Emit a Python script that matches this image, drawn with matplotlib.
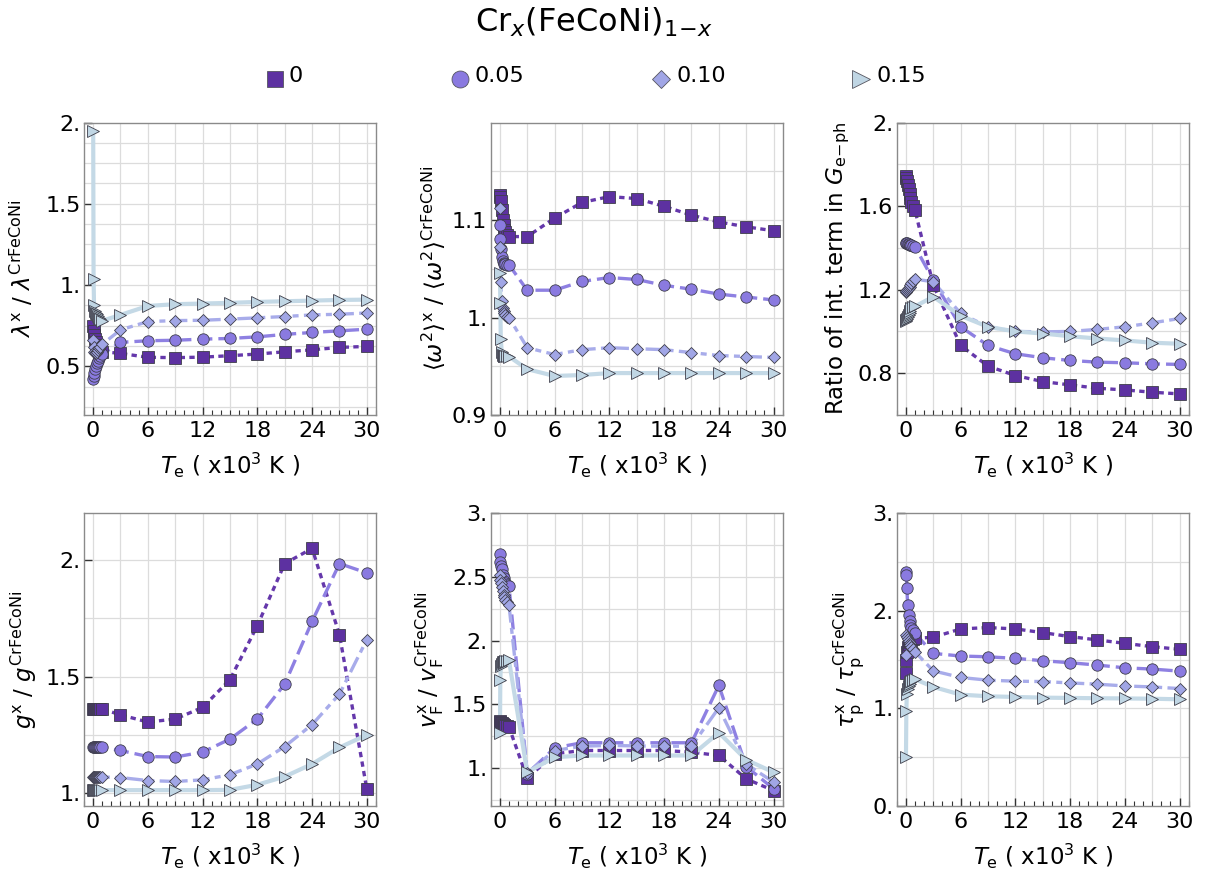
import matplotlib
matplotlib.use("Agg")
import matplotlib.pyplot as plt
from matplotlib.lines import Line2D
from matplotlib.ticker import FixedLocator, MultipleLocator

plt.rcParams['font.family'] = ['DejaVu Sans']
plt.rcParams['mathtext.fontset'] = 'dejavusans'

# ---------------------------------------------------------------- data
# electron temperature (x10^3 K)
T = [0.01, 0.05, 0.1, 0.2, 0.3, 0.4, 0.5, 0.6, 0.8, 1.0,
     3, 6, 9, 12, 15, 18, 21, 24, 27, 30]

compositions = ["0", "0.05", "0.10", "0.15"]

# lambda^x / lambda^CrFeCoNi
lam_00 = [0.75, 0.72, 0.69, 0.67, 0.65, 0.63, 0.62, 0.61, 0.60, 0.59,
          0.579, 0.555, 0.553, 0.556, 0.565, 0.575, 0.589, 0.601, 0.616, 0.622]
lam_05 = [0.42, 0.44, 0.46, 0.48, 0.50, 0.52, 0.535, 0.55, 0.565, 0.575,
          0.647, 0.657, 0.660, 0.667, 0.671, 0.681, 0.696, 0.708, 0.718, 0.728]
lam_10 = [0.66, 0.62, 0.59, 0.58, 0.58, 0.59, 0.60, 0.61, 0.62, 0.635,
          0.724, 0.775, 0.781, 0.783, 0.790, 0.798, 0.806, 0.816, 0.820, 0.828]
lam_15 = [1.95, 1.04, 0.88, 0.84, 0.83, 0.82, 0.81, 0.80, 0.79, 0.78,
          0.816, 0.871, 0.882, 0.886, 0.890, 0.896, 0.900, 0.904, 0.908, 0.910]

# <w^2>^x / <w^2>^CrFeCoNi
w2_00 = [1.126, 1.124, 1.120, 1.110, 1.100, 1.095, 1.090, 1.088, 1.085, 1.083,
         1.083, 1.102, 1.118, 1.124, 1.122, 1.114, 1.105, 1.098, 1.093, 1.089]
w2_05 = [1.095, 1.081, 1.070, 1.062, 1.058, 1.056, 1.055, 1.055, 1.054, 1.054,
         1.028, 1.028, 1.037, 1.041, 1.039, 1.033, 1.029, 1.024, 1.021, 1.018]
w2_10 = [1.112, 1.072, 1.036, 1.017, 1.010, 1.007, 1.005, 1.003, 1.001, 1.000,
         0.969, 0.962, 0.967, 0.969, 0.968, 0.967, 0.964, 0.961, 0.960, 0.959]
w2_15 = [1.046, 1.015, 0.978, 0.965, 0.962, 0.961, 0.961, 0.961, 0.961, 0.960,
         0.947, 0.940, 0.941, 0.943, 0.943, 0.943, 0.943, 0.943, 0.943, 0.943]

# ratio of the integral term in G_e-ph
rat_00 = [1.745, 1.735, 1.720, 1.700, 1.680, 1.660, 1.640, 1.620, 1.600, 1.580,
          1.222, 0.933, 0.834, 0.789, 0.760, 0.744, 0.728, 0.720, 0.709, 0.701]
rat_05 = [1.425, 1.424, 1.422, 1.420, 1.418, 1.416, 1.414, 1.412, 1.410, 1.405,
          1.246, 1.022, 0.933, 0.893, 0.874, 0.861, 0.853, 0.850, 0.845, 0.842]
rat_10 = [1.190, 1.195, 1.200, 1.205, 1.210, 1.215, 1.220, 1.230, 1.240, 1.250,
          1.238, 1.086, 1.022, 1.000, 0.998, 1.000, 1.010, 1.022, 1.041, 1.062]
rat_15 = [1.050, 1.055, 1.060, 1.070, 1.080, 1.090, 1.100, 1.110, 1.115, 1.120,
          1.166, 1.075, 1.022, 1.000, 0.990, 0.977, 0.966, 0.957, 0.946, 0.941]

# g^x / g^CrFeCoNi
g_00 = [1.360, 1.360, 1.360, 1.360, 1.360, 1.360, 1.360, 1.360, 1.360, 1.361,
        1.336, 1.305, 1.318, 1.368, 1.487, 1.719, 1.985, 2.050, 1.680, 1.017]
g_05 = [1.200, 1.200, 1.200, 1.199, 1.199, 1.198, 1.198, 1.197, 1.197, 1.196,
        1.183, 1.157, 1.155, 1.176, 1.232, 1.318, 1.468, 1.737, 1.985, 1.945]
g_10 = [1.071, 1.071, 1.071, 1.071, 1.070, 1.070, 1.070, 1.070, 1.069, 1.069,
        1.067, 1.054, 1.050, 1.057, 1.079, 1.125, 1.200, 1.294, 1.425, 1.659]
g_15 = [1.013, 1.013, 1.013, 1.013, 1.013, 1.013, 1.013, 1.013, 1.013, 1.013,
        1.013, 1.013, 1.013, 1.013, 1.014, 1.036, 1.071, 1.125, 1.196, 1.250]

# v_F^x / v_F^CrFeCoNi
vf_00 = [1.365, 1.360, 1.355, 1.350, 1.345, 1.340, 1.335, 1.330, 1.325, 1.320,
         0.918, 1.110, 1.136, 1.136, 1.136, 1.136, 1.123, 1.097, 0.913, 0.821]
vf_05 = [2.68, 2.62, 2.59, 2.56, 2.52, 2.49, 2.47, 2.45, 2.44, 2.43,
         0.953, 1.157, 1.197, 1.197, 1.197, 1.197, 1.197, 1.648, 1.010, 0.835]
vf_10 = [2.52, 2.48, 2.45, 2.42, 2.39, 2.36, 2.34, 2.32, 2.30, 2.28,
         0.960, 1.136, 1.170, 1.176, 1.172, 1.170, 1.170, 1.472, 1.030, 0.887]
vf_15 = [1.27, 1.69, 1.80, 1.82, 1.83, 1.83, 1.835, 1.84, 1.84, 1.845,
         0.965, 1.083, 1.097, 1.097, 1.097, 1.097, 1.097, 1.276, 1.063, 0.965]

# tau_p^x / tau_p^CrFeCoNi
tau_00 = [1.36, 1.50, 1.58, 1.63, 1.66, 1.68, 1.69, 1.70, 1.71, 1.72,
          1.730, 1.816, 1.830, 1.816, 1.778, 1.737, 1.703, 1.668, 1.634, 1.607]
tau_05 = [2.40, 2.37, 2.24, 2.06, 1.96, 1.90, 1.86, 1.83, 1.80, 1.77,
          1.565, 1.538, 1.530, 1.514, 1.490, 1.469, 1.445, 1.417, 1.404, 1.383]
tau_10 = [1.55, 1.75, 1.73, 1.71, 1.69, 1.67, 1.65, 1.63, 1.61, 1.58,
          1.386, 1.318, 1.290, 1.280, 1.276, 1.262, 1.249, 1.231, 1.221, 1.204]
tau_15 = [0.50, 0.97, 1.15, 1.20, 1.23, 1.25, 1.27, 1.28, 1.29, 1.30,
          1.221, 1.142, 1.125, 1.118, 1.111, 1.108, 1.105, 1.103, 1.100, 1.094]

x_ticks = [0, 6, 12, 18, 24, 30]
x_ticklabels = ["0", "6", "12", "18", "24", "30"]

panels = [
    dict(series=[lam_00, lam_05, lam_10, lam_15],
         ylabel=r"$\lambda^{\mathrm{x}}$ / $\lambda^{\mathrm{CrFeCoNi}}$",
         ylim=(0.2, 2.0), yticks=[0.5, 1.0, 1.5, 2.0],
         yticklabels=["0.5", "1.", "1.5", "2."], ygrid=0.125),
    dict(series=[w2_00, w2_05, w2_10, w2_15],
         ylabel=r"$\langle\omega^2\rangle^{\mathrm{x}}$ / $\langle\omega^2\rangle^{\mathrm{CrFeCoNi}}$",
         ylim=(0.9, 1.2), yticks=[0.9, 1.0, 1.1],
         yticklabels=["0.9", "1.", "1.1"], ygrid=0.05),
    dict(series=[rat_00, rat_05, rat_10, rat_15],
         ylabel=r"Ratio of int. term in $G_{\mathrm{e\!-\!ph}}$",
         ylim=(0.6, 2.0), yticks=[0.8, 1.2, 1.6, 2.0],
         yticklabels=["0.8", "1.2", "1.6", "2."], ygrid=0.2),
    dict(series=[g_00, g_05, g_10, g_15],
         ylabel=r"$g^{\mathrm{x}}$ / $g^{\mathrm{CrFeCoNi}}$",
         ylim=(0.945, 2.2), yticks=[1.0, 1.5, 2.0],
         yticklabels=["1.", "1.5", "2."], ygrid=0.25),
    dict(series=[vf_00, vf_05, vf_10, vf_15],
         ylabel=r"$v_{\mathrm{F}}^{\mathrm{x}}$ / $v_{\mathrm{F}}^{\mathrm{CrFeCoNi}}$",
         ylim=(0.7, 3.0), yticks=[1.0, 1.5, 2.0, 2.5, 3.0],
         yticklabels=["1.", "1.5", "2.", "2.5", "3."], ygrid=0.25),
    dict(series=[tau_00, tau_05, tau_10, tau_15],
         ylabel=r"$\tau_{\mathrm{p}}^{\mathrm{x}}$ / $\tau_{\mathrm{p}}^{\mathrm{CrFeCoNi}}$",
         ylim=(0.0, 3.0), yticks=[0.0, 1.0, 2.0, 3.0],
         yticklabels=["0.", "1.", "2.", "3."], ygrid=0.5),
]

# ---------------------------------------------------------------- styles
styles = [
    dict(marker="s", face="#5d31a1", line="#6538ab", ls=(0, (1.6, 1.3)), lw=2.4, ms=8.6),
    dict(marker="o", face="#8a7ae0", line="#8e80e2", ls=(0, (4.5, 1.8)), lw=2.4, ms=8.2),
    dict(marker="D", face="#a1a6e6", line="#a8acea", ls=(0, (5.0, 1.6, 1.8, 1.6)), lw=2.4, ms=6.2),
    dict(marker=">", face="#c0d6e4", line="#c4d9e6", ls="-", lw=3.0, ms=8.6),
]
edge_color = "#3e3e4a"

fig = plt.figure(figsize=(12.12, 8.77), dpi=100)

col_left = [0.0693, 0.4049, 0.7399]
row_bottom = [0.5268, 0.0810]
ax_w, ax_h = 0.2409, 0.3335
label_x = [-0.165, -0.150, -0.152, -0.155, -0.152, -0.105]

for i, p in enumerate(panels):
    ax = fig.add_axes([col_left[i % 3], row_bottom[i // 3], ax_w, ax_h])
    for k, (vals, st) in enumerate(zip(p["series"], styles)):
        ax.plot(T, vals, color=st["line"], lw=st["lw"], ls=st["ls"],
                zorder=2, solid_capstyle="butt", dash_capstyle="butt")
    for k, (vals, st) in enumerate(zip(p["series"], styles)):
        ax.plot(T, vals, ls="none", marker=st["marker"], ms=st["ms"],
                mfc=st["face"], mec=edge_color, mew=0.6, zorder=3 + k)

    ax.set_xlim(-1.0, 31.0)
    ax.set_ylim(*p["ylim"])
    ax.xaxis.set_major_locator(FixedLocator(x_ticks))
    ax.set_xticklabels(x_ticklabels)
    ax.xaxis.set_minor_locator(MultipleLocator(1))
    ax.yaxis.set_major_locator(FixedLocator(p["yticks"]))
    ax.set_yticklabels(p["yticklabels"])

    # grid: every 3 in x, panel-specific step in y
    for gx in range(0, 31, 3):
        ax.axvline(gx, color="#dcdcdc", lw=0.9, zorder=0)
    lo, hi = p["ylim"]
    step = p["ygrid"]
    n0 = int(lo / step) + 1
    gy = n0 * step
    while gy < hi - 1e-9:
        ax.axhline(gy, color="#dcdcdc", lw=0.9, zorder=0)
        gy += step

    ax.tick_params(axis="both", which="both", direction="in", colors="#333333",
                   labelcolor="black", labelsize=16, top=False, right=False)
    ax.tick_params(axis="x", which="major", length=6, width=1.0, pad=4)
    ax.tick_params(axis="x", which="minor", length=3.5, width=0.8)
    ax.tick_params(axis="y", which="major", length=6, width=1.0, pad=2.5)
    for sp in ax.spines.values():
        sp.set_color("#8a8a8a")
        sp.set_linewidth(1.0)

    ax.set_xlabel(r"$T_{\mathrm{e}}$ ( x10$^{3}$ K )", fontsize=16.5)
    ax.xaxis.set_label_coords(0.5, -0.122)
    ax.xaxis.label.set_va("top")
    ax.set_ylabel(p["ylabel"], fontsize=16.5)
    ax.yaxis.set_label_coords(label_x[i], 0.5)

# title
fig.text(0.49, 1 - 32 / 877, r"Cr$_{x}$(FeCoNi)$_{\mathit{1}\!-\!x}$",
         fontsize=23, ha="center", va="baseline")

# legend row
leg_marker_x = [275, 460, 661, 861]
leg_text_x = [289, 475, 676, 876]
leg_ms = [12.2, 12.2, 8.7, 12.5]
for lab, st, mx, tx, ms in zip(compositions, styles, leg_marker_x, leg_text_x, leg_ms):
    fig.add_artist(Line2D([mx / 1212], [1 - 79 / 877], transform=fig.transFigure,
                          ls="none", marker=st["marker"], ms=ms, mfc=st["face"],
                          mec="#55555f", mew=0.6))
    fig.text(tx / 1212, 1 - 82 / 877, lab, fontsize=16, ha="left", va="baseline")

fig.savefig("out.png", dpi=100)
